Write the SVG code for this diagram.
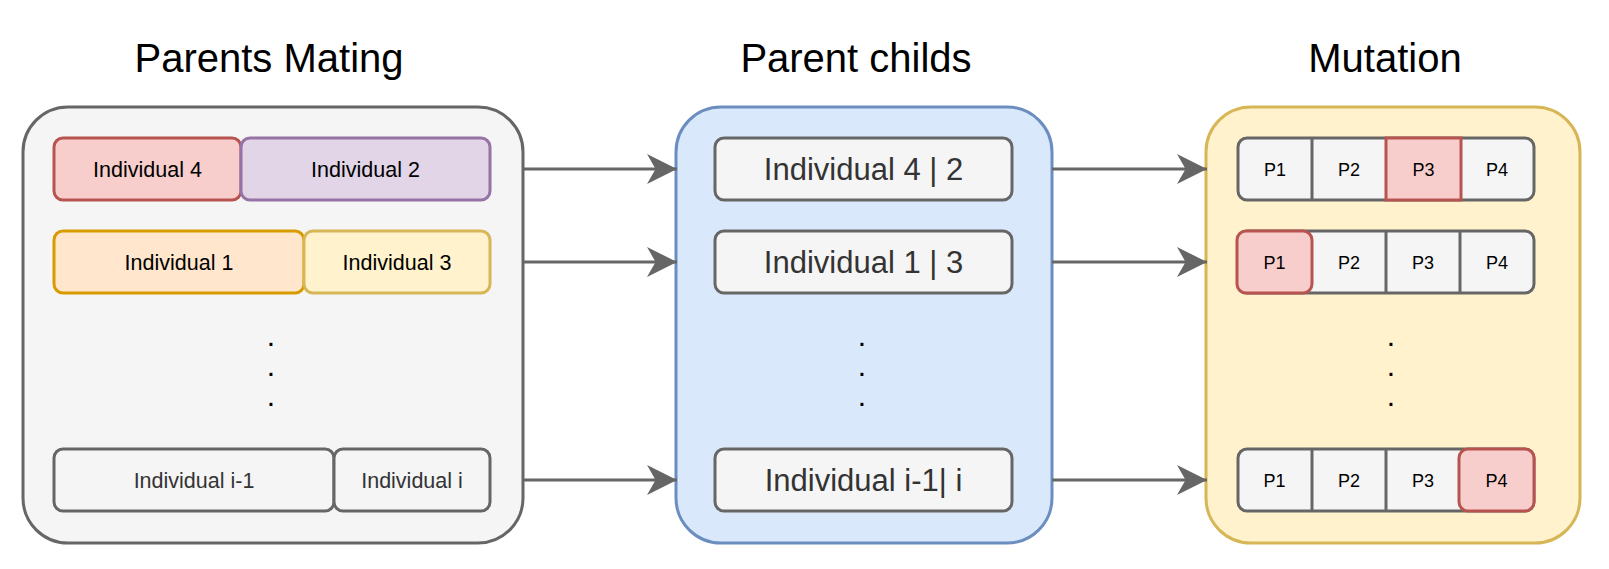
<svg xmlns="http://www.w3.org/2000/svg" width="1609" height="569" viewBox="0 0 1609 569">
<style>
text{font-family:"Liberation Sans",Arial,Helvetica,sans-serif;text-anchor:middle}
.title{font-size:40px;fill:#000}
.ind{font-size:21.5px}
.big{font-size:31px;fill:#333}
.p{font-size:18px;fill:#000}
.dot{font-size:30px;fill:#000}
.g{fill:#f5f5f5;stroke:#666;stroke-width:3}
.red{fill:#f8cecc;stroke:#b85450;stroke-width:3}
.pur{fill:#e1d5e7;stroke:#9673a6;stroke-width:3}
.org{fill:#ffe6cc;stroke:#d79b00;stroke-width:3}
.yel{fill:#fff2cc;stroke:#d6b656;stroke-width:3}
.blu{fill:#dae8fc;stroke:#6c8ebf;stroke-width:3}
.edge{stroke:#666;stroke-width:3;fill:none}
.div{stroke:#666;stroke-width:3}
</style>
<defs>
<marker id="arr" markerUnits="userSpaceOnUse" markerWidth="30" markerHeight="30" viewBox="0 0 28 28" refX="28" refY="14" orient="auto">
<path d="M28,14 L0,0 L8,14 L0,28 Z" fill="#666"/>
</marker>
</defs>

<g id="titles">
<text class="title" x="269" y="72">Parents Mating</text>
<text class="title" x="856" y="72">Parent childs</text>
<text class="title" x="1385" y="72">Mutation</text>
</g>

<g id="parents-mating">
<rect class="g" x="23" y="107" width="500" height="436" rx="45"/>
<g id="ind4"><rect class="red" x="54" y="138" width="187" height="62" rx="9"/><text class="ind" x="147.5" y="176.5">Individual 4</text></g>
<g id="ind2"><rect class="pur" x="241" y="138" width="249" height="62" rx="9"/><text class="ind" x="365.5" y="176.5">Individual 2</text></g>
<g id="ind1"><rect class="org" x="54" y="231" width="250" height="62" rx="9"/><text class="ind" x="179" y="269.5">Individual 1</text></g>
<g id="ind3"><rect class="yel" x="304" y="231" width="186" height="62" rx="9"/><text class="ind" x="397" y="269.5">Individual 3</text></g>
<text class="dot" x="271" y="346">.</text>
<text class="dot" x="271" y="376">.</text>
<text class="dot" x="271" y="406">.</text>
<g id="indi-1"><rect class="g" x="54" y="449" width="280" height="62" rx="9"/><text class="ind" x="194" y="487.5" fill="#333">Individual i-1</text></g>
<g id="indi"><rect class="g" x="334" y="449" width="156" height="62" rx="9"/><text class="ind" x="412" y="487.5" fill="#333">Individual i</text></g>
</g>

<g id="parent-childs">
<rect class="blu" x="676" y="107" width="376" height="436" rx="45"/>
<g id="c42"><rect class="g" x="715" y="138" width="297" height="62" rx="9"/><text class="big" x="863.5" y="180">Individual 4 | 2</text></g>
<g id="c13"><rect class="g" x="715" y="231" width="297" height="62" rx="9"/><text class="big" x="863.5" y="273">Individual 1 | 3</text></g>
<text class="dot" x="862" y="346">.</text>
<text class="dot" x="862" y="376">.</text>
<text class="dot" x="862" y="406">.</text>
<g id="ci"><rect class="g" x="715" y="449" width="297" height="62" rx="9"/><text class="big" x="863.5" y="491">Individual i-1| i</text></g>
</g>

<g id="mutation">
<rect class="yel" x="1206" y="107" width="374" height="436" rx="45"/>
<g id="m1">
<rect class="g" x="1238" y="138" width="296" height="62" rx="9"/>
<line class="div" x1="1312" y1="138" x2="1312" y2="200"/>
<line class="div" x1="1460" y1="138" x2="1460" y2="200"/>
<rect class="red" x="1386" y="138" width="75" height="62"/>
<text class="p" x="1275" y="175.5">P1</text>
<text class="p" x="1349" y="175.5">P2</text>
<text class="p" x="1423.5" y="175.5">P3</text>
<text class="p" x="1497" y="175.5">P4</text>
</g>
<g id="m2">
<rect class="g" x="1238" y="231" width="296" height="62" rx="9"/>
<line class="div" x1="1386" y1="231" x2="1386" y2="293"/>
<line class="div" x1="1460" y1="231" x2="1460" y2="293"/>
<rect class="red" x="1237" y="231" width="75" height="62" rx="9"/>
<text class="p" x="1274.5" y="268.5">P1</text>
<text class="p" x="1349" y="268.5">P2</text>
<text class="p" x="1423" y="268.5">P3</text>
<text class="p" x="1497" y="268.5">P4</text>
</g>
<text class="dot" x="1391" y="346">.</text>
<text class="dot" x="1391" y="376">.</text>
<text class="dot" x="1391" y="406">.</text>
<g id="m3">
<rect class="g" x="1238" y="449" width="296" height="62" rx="9"/>
<line class="div" x1="1312" y1="449" x2="1312" y2="511"/>
<line class="div" x1="1386" y1="449" x2="1386" y2="511"/>
<rect class="red" x="1459" y="449" width="75" height="62" rx="9"/>
<text class="p" x="1274.5" y="486.5">P1</text>
<text class="p" x="1349" y="486.5">P2</text>
<text class="p" x="1423" y="486.5">P3</text>
<text class="p" x="1496.5" y="486.5">P4</text>
</g>
</g>

<g id="connectors">
<path class="edge" d="M523,169 L677,169" marker-end="url(#arr)"/>
<path class="edge" d="M523,262 L677,262" marker-end="url(#arr)"/>
<path class="edge" d="M523,480 L677,480" marker-end="url(#arr)"/>
<path class="edge" d="M1052,169 L1207,169" marker-end="url(#arr)"/>
<path class="edge" d="M1052,262 L1207,262" marker-end="url(#arr)"/>
<path class="edge" d="M1052,480 L1207,480" marker-end="url(#arr)"/>
</g>
</svg>
